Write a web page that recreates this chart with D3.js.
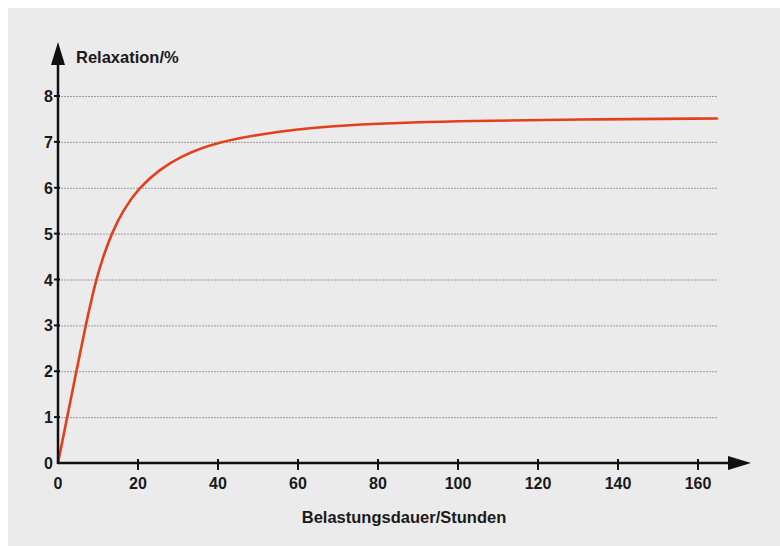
<!DOCTYPE html>
<html>
<head>
<meta charset="utf-8">
<title>Relaxation</title>
<script src="https://cdn.jsdelivr.net/npm/d3@7"></script>
<style>
  body { margin: 0; background: #fff; }
  text { font-family: "Liberation Sans", Arial, sans-serif; font-weight: bold; fill: #1a1a1a; }
</style>
</head>
<body>
<div id="chart"></div>
<script>
// Belastungsdauer in Stunden and Relaxation in %
var hours      = [0, 2.3, 4.6, 6.9, 9.5, 11.3, 13.4, 16.2, 20.2, 25.3, 30.5, 39.5, 55.5, 70.5, 100, 130, 164.75];
var relaxation = [0, 1, 2, 3, 4, 4.5, 5, 5.5, 6, 6.39, 6.68, 7, 7.24, 7.37, 7.46, 7.49, 7.51];
var xTicks = [0, 20, 40, 60, 80, 100, 120, 140, 160];
var yTicks = [0, 1, 2, 3, 4, 5, 6, 7, 8];

var W = 780, H = 546;
var margin = {left: 58, top: 96, right: 62, bottom: 83};

var x = d3.scaleLinear().domain([0, 160]).range([margin.left, margin.left + 640]);
var y = d3.scaleLinear().domain([0, 8]).range([H - margin.bottom, margin.top]);

var svg = d3.select("#chart").append("svg")
    .attr("width", W)
    .attr("height", H);

// grey panel
svg.append("rect")
    .attr("x", 8).attr("y", 8)
    .attr("width", W - 8).attr("height", H - 8)
    .attr("fill", "#ebebeb");

// dotted grid lines
svg.append("g").selectAll("line")
    .data(yTicks.filter(function(d) { return d > 0; }))
    .enter().append("line")
    .attr("x1", x(0)).attr("x2", x(165))
    .attr("y1", function(d) { return y(d) + 0.5; })
    .attr("y2", function(d) { return y(d) + 0.5; })
    .attr("stroke", "#9a9a9a")
    .attr("stroke-width", 1)
    .attr("stroke-dasharray", "2,1");

// curve (basis smooths out small reading errors)
var pts = hours.map(function(h, i) { return [h, relaxation[i]]; });
var line = d3.line()
    .x(function(d) { return x(d[0]); })
    .y(function(d) { return y(d[1]); })
    .curve(d3.curveBasis);

svg.append("path")
    .datum(pts)
    .attr("d", line)
    .attr("fill", "none")
    .attr("stroke", "#e2401d")
    .attr("stroke-width", 2.6)
    .attr("stroke-linecap", "round");

// axes with arrows
var axisColor = "#111";
svg.append("line")
    .attr("x1", x(0)).attr("x2", 735)
    .attr("y1", y(0)).attr("y2", y(0))
    .attr("stroke", axisColor).attr("stroke-width", 2.5);
svg.append("path")
    .attr("d", "M751," + y(0) + " L728," + (y(0) - 7) + " L728," + (y(0) + 7) + " Z")
    .attr("fill", axisColor);

svg.append("line")
    .attr("x1", x(0)).attr("x2", x(0))
    .attr("y1", y(0) + 1).attr("y2", 58)
    .attr("stroke", axisColor).attr("stroke-width", 2.5);
svg.append("path")
    .attr("d", "M" + x(0) + ",42 L" + (x(0) - 7) + ",65 L" + (x(0) + 7) + ",65 Z")
    .attr("fill", axisColor);

// x ticks + labels
var xt = svg.append("g").selectAll("g")
    .data(xTicks)
    .enter().append("g");
xt.filter(function(d) { return d > 0; }).append("line")
    .attr("x1", function(d) { return x(d); })
    .attr("x2", function(d) { return x(d); })
    .attr("y1", y(0) - 4).attr("y2", y(0) + 7)
    .attr("stroke", axisColor).attr("stroke-width", 2);
xt.append("text")
    .attr("x", function(d) { return x(d); })
    .attr("y", y(0) + 26)
    .attr("text-anchor", "middle")
    .attr("font-size", 16)
    .text(function(d) { return d; });

// y ticks + labels
var yt = svg.append("g").selectAll("g")
    .data(yTicks)
    .enter().append("g");
yt.filter(function(d) { return d > 0; }).append("line")
    .attr("x1", x(0) - 4).attr("x2", x(0) + 2)
    .attr("y1", function(d) { return y(d); })
    .attr("y2", function(d) { return y(d); })
    .attr("stroke", axisColor).attr("stroke-width", 2);
yt.append("text")
    .attr("x", x(0) - 5)
    .attr("y", function(d) { return y(d) + 6; })
    .attr("text-anchor", "end")
    .attr("font-size", 16)
    .text(function(d) { return d; });

// axis titles
svg.append("text")
    .attr("x", 76).attr("y", 63)
    .attr("font-size", 16.5)
    .text("Relaxation/%");

svg.append("text")
    .attr("x", 404).attr("y", 523)
    .attr("text-anchor", "middle")
    .attr("font-size", 16.5)
    .text("Belastungsdauer/Stunden");
</script>
</body>
</html>
